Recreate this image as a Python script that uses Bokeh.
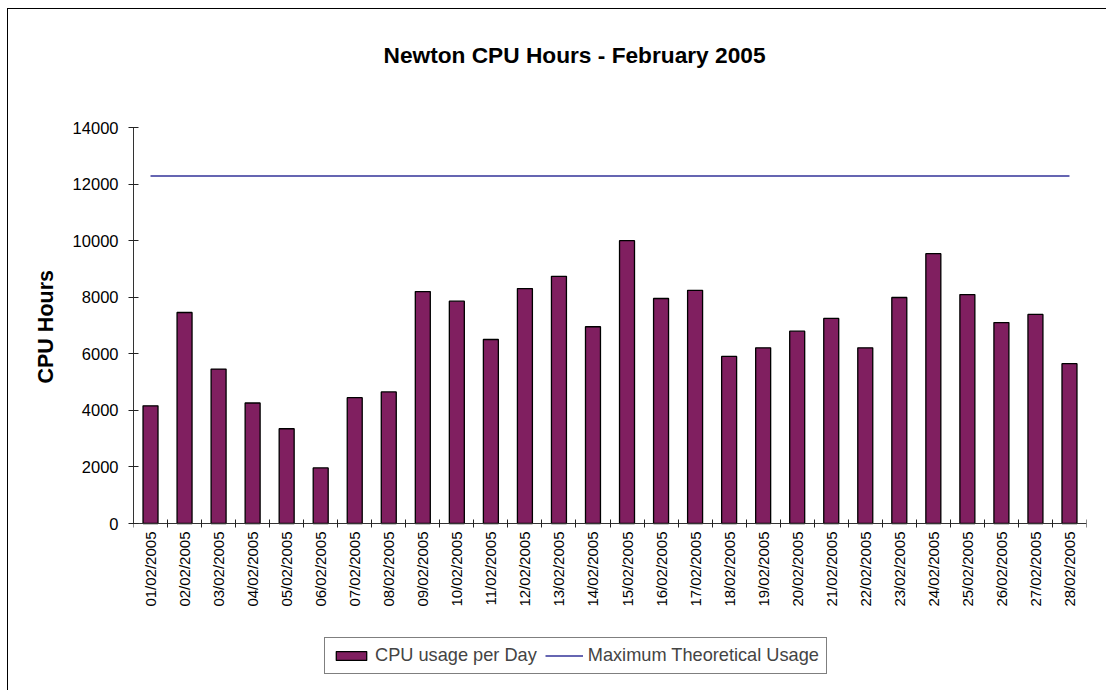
import numpy as np
from bokeh.plotting import figure
from bokeh.models import Range1d, FixedTicker, Legend, LegendItem, Title
from bokeh.embed import file_html
from bokeh.resources import INLINE

dates = ["01/02/2005", "02/02/2005", "03/02/2005", "04/02/2005", "05/02/2005",
         "06/02/2005", "07/02/2005", "08/02/2005", "09/02/2005", "10/02/2005",
         "11/02/2005", "12/02/2005", "13/02/2005", "14/02/2005", "15/02/2005",
         "16/02/2005", "17/02/2005", "18/02/2005", "19/02/2005", "20/02/2005",
         "21/02/2005", "22/02/2005", "23/02/2005", "24/02/2005", "25/02/2005",
         "26/02/2005", "27/02/2005", "28/02/2005"]
cpu_usage = [4160, 7460, 5460, 4260, 3350, 1965, 4450, 4650, 8200, 7860,
             6505, 8305, 8740, 6955, 10000, 7955, 8245, 5905, 6210, 6800,
             7250, 6210, 7990, 9540, 8095, 7105, 7390, 5650]
max_theoretical = [12288] * len(dates)
y_ticks = [0, 2000, 4000, 6000, 8000, 10000, 12000, 14000]
y_max = 14000

n = len(dates)
centers = [i + 0.5 for i in range(n)]
bounds = [i for i in range(n + 1)]

FONT = "Liberation Sans"

# the frame reaches down to hold the legend; value 0 sits PLOT_H px below the top
PLOT_H = 396
FRAME_H = 563
y_min = -y_max * (FRAME_H - PLOT_H) / PLOT_H

p = figure(frame_width=953, frame_height=FRAME_H, output_backend="svg", toolbar_location=None,
           x_range=Range1d(0, n), y_range=Range1d(y_min, y_max),
           min_border_left=125, min_border_top=118, min_border_right=20, min_border_bottom=0)
p.styles = {"margin-left": "7px", "margin-top": "8px",
            "border-left": "1px solid black", "border-top": "1px solid black"}

# spacer between the frame and the title
p.add_layout(Title(text=" ", text_font_size="12px", standoff=13), "above")

p.title.text = "Newton CPU Hours - February 2005"
p.title.text_font = FONT
p.title.text_font_size = "22.7px"
p.title.text_font_style = "bold"
p.title.text_color = "black"
p.title.align = "left"
p.title.offset = 250
p.title.vertical_align = "middle"
p.title.standoff = 60

bars = p.vbar(x=centers, top=cpu_usage, width=0.44, fill_color="#801F60",
              line_color="black", line_width=1.3)
line = p.line(x=centers, y=max_theoretical, line_color="#333399", line_width=1.6)

p.xgrid.visible = False
p.ygrid.visible = False
p.outline_line_color = None
p.background_fill_color = "white"
p.border_fill_color = "white"

xa = p.xaxis[0]
xa.fixed_location = 0
xa.ticker = FixedTicker(ticks=centers, minor_ticks=bounds)
xa.major_label_overrides = {c: d for c, d in zip(centers, dates)}
xa.major_label_orientation = np.pi / 2
xa.major_tick_in = 0
xa.major_tick_out = 0
xa.minor_tick_in = 4
xa.minor_tick_out = 4
xa.minor_tick_line_color = "#222222"
xa.major_label_standoff = 4
xa.major_label_text_font = FONT
xa.major_label_text_font_size = "15px"
xa.major_label_text_color = "black"
xa.axis_line_color = "#333333"

ya = p.yaxis[0]
ya.bounds = (0, y_max)
ya.ticker = FixedTicker(ticks=y_ticks, minor_ticks=[])
ya.major_tick_in = 5
ya.major_tick_out = 5
ya.major_tick_line_color = "#222222"
ya.major_label_standoff = 10
ya.major_label_text_font = FONT
ya.major_label_text_font_size = "16.5px"
ya.major_label_text_color = "black"
ya.axis_line_color = "#333333"

# y axis title, placed beside the 0..14000 part of the axis
ytitle = Title(text="CPU Hours", text_font=FONT, text_font_size="21.5px",
               text_font_style="bold", text_color="black",
               align="left", offset=307, vertical_align="middle", standoff=22)
p.add_layout(ytitle, "left")

legend = Legend(items=[LegendItem(label="CPU usage per Day", renderers=[bars]),
                       LegendItem(label="Maximum Theoretical Usage", renderers=[line])],
                orientation="horizontal", location=(191, 16), margin=0,
                padding=7, spacing=8, glyph_width=38, glyph_height=11,
                label_height=18, label_standoff=5,
                label_text_font=FONT, label_text_font_size="18.2px",
                border_line_color="black", border_line_width=1,
                background_fill_color="white")
p.add_layout(legend, "center")

open("out.html", "w").write(file_html(p, INLINE))
